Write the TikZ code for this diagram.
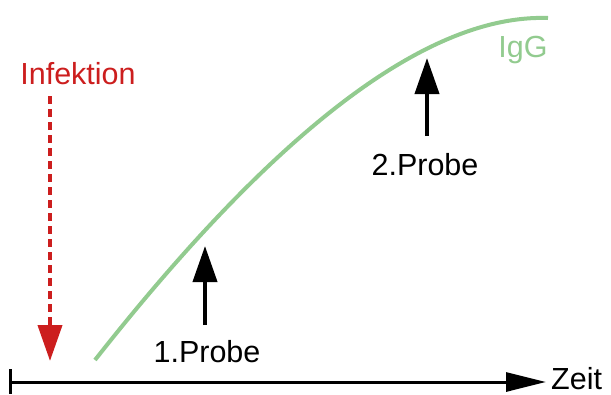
\documentclass[tikz,border=0pt]{standalone}
\usepackage{fontspec}
\setmainfont{Liberation Sans}
\usetikzlibrary{arrows.meta}
\definecolor{igggreen}{RGB}{146,203,143}
\definecolor{infred}{RGB}{204,30,30}
\begin{document}
\begin{tikzpicture}[x=1pt,y=-1pt,
  lbl/.style={font=\fontsize{30.5}{34}\selectfont, inner sep=0pt},
  probearrow/.style={line width=4pt, -{Triangle[length=36pt,width=24pt]}},
]
\useasboundingbox (0,0) rectangle (611,394);
% time axis
\coordinate (a0) at (10,382);
\coordinate (a1) at (546,382);
\coordinate (t0) at (10,369);
\coordinate (t1) at (10,394);
\draw[line width=3pt] (t0) -- (t1);
\draw[line width=3pt, -{Triangle[length=40pt,width=19pt]}] (a0) -- (a1);
\node[lbl, anchor=base west, text depth=0pt] (zeit) at (551,389) {Zeit};
% infection
\node[lbl, text=infred] (inf) at (78,74) {Infektion};
\coordinate (i0) at (50,96);
\coordinate (i1) at (50,361);
\draw[infred, line width=4pt, dash pattern=on 8pt off 5pt, -{Triangle[length=36pt,width=24pt]}] (i0) -- (i1);
% IgG curve
\coordinate (g0) at (95,360);
\coordinate (g1) at (548,18);
\draw[igggreen, line width=4pt] (g0) .. controls (280,125) and (430,14) .. (g1);
\node[lbl, text=igggreen] (igg) at (523,50) {IgG};
% probes
\coordinate (p1b) at (205,325);
\coordinate (p1t) at (205,246);
\draw[probearrow] (p1b) -- (p1t);
\node[lbl] (probe1) at (207,352) {1.Probe};
\coordinate (p2b) at (427,136);
\coordinate (p2t) at (427,58);
\draw[probearrow] (p2b) -- (p2t);
\node[lbl] (probe2) at (425,165) {2.Probe};
\end{tikzpicture}
\end{document}
